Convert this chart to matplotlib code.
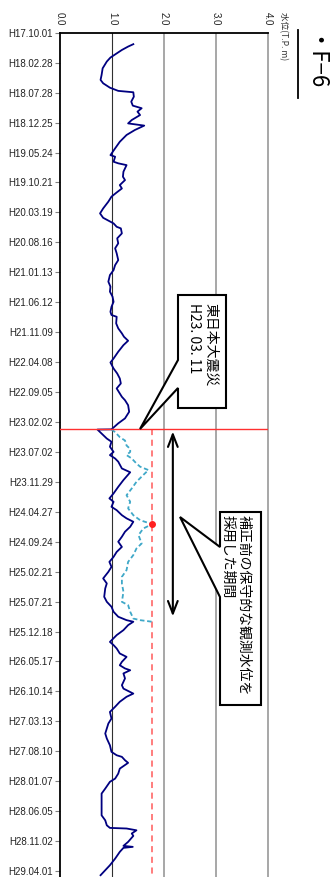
import pandas as pd
import matplotlib.pyplot as plt
import matplotlib.dates as mdates
from matplotlib.patches import Polygon
from matplotlib.lines import Line2D

plt.rcParams['font.family'] = ['Liberation Sans', 'Noto Sans CJK JP', 'DejaVu Sans']
jp = ['Noto Sans CJK JP', 'DejaVu Sans']

level_dates = [
    '2005-11-27', '2005-12-09', '2005-12-26', '2006-01-12', '2006-02-02', '2006-02-22',
    '2006-03-28', '2006-04-30', '2006-05-25', '2006-06-11', '2006-07-03', '2006-07-19',
    '2006-07-26', '2006-08-17', '2006-09-11', '2006-10-01', '2006-10-14', '2006-10-31',
    '2006-11-17', '2006-12-12', '2006-12-29', '2007-01-09', '2007-01-31', '2007-02-25',
    '2007-03-31', '2007-05-03', '2007-06-06', '2007-06-14', '2007-07-09', '2007-07-17',
    '2007-07-26', '2007-08-28', '2007-09-22', '2007-10-09', '2007-11-03', '2007-11-20',
    '2007-12-10', '2007-12-31', '2008-01-25', '2008-02-28', '2008-03-24', '2008-04-15',
    '2008-05-13', '2008-05-30', '2008-06-07', '2008-07-02', '2008-07-27', '2008-08-21',
    '2008-09-15', '2008-10-10', '2008-11-13', '2008-12-08', '2009-01-02', '2009-01-27',
    '2009-03-01', '2009-03-26', '2009-04-20', '2009-05-15', '2009-06-10', '2009-07-05',
    '2009-07-30', '2009-08-15', '2009-08-24', '2009-09-26', '2009-10-21', '2009-11-15',
    '2009-12-02', '2009-12-22', '2010-01-13', '2010-02-15', '2010-03-21', '2010-04-10',
    '2010-05-10', '2010-06-04', '2010-06-29', '2010-07-24', '2010-08-18', '2010-09-29',
    '2010-10-16', '2010-11-10', '2010-12-13', '2011-01-15', '2011-02-09', '2011-03-11',
    '2011-03-12', '2011-04-01', '2011-04-26', '2011-05-12', '2011-06-06', '2011-07-02',
    '2011-07-18', '2011-08-04', '2011-08-20', '2011-09-23', '2011-10-12', '2011-11-20',
    '2011-12-24', '2012-01-26', '2012-02-20', '2012-03-08', '2012-04-02', '2012-04-19',
    '2012-05-14', '2012-05-30', '2012-06-16', '2012-07-11', '2012-08-05', '2012-08-30',
    '2012-09-24', '2012-10-20', '2012-11-14', '2012-12-09', '2013-01-03', '2013-01-28',
    '2013-02-22', '2013-03-27', '2013-04-21', '2013-05-16', '2013-06-27', '2013-07-22',
    '2013-08-16', '2013-09-10', '2013-10-05', '2013-10-22', '2013-10-30', '2013-11-16',
    '2013-12-11', '2014-01-05', '2014-02-08', '2014-02-24', '2014-03-13', '2014-04-07',
    '2014-04-24', '2014-05-19', '2014-06-05', '2014-06-21', '2014-06-30', '2014-07-16',
    '2014-08-10', '2014-09-13', '2014-09-30', '2014-10-25', '2014-11-10', '2014-12-05',
    '2014-12-30', '2015-01-25', '2015-02-27', '2015-03-24', '2015-05-13', '2015-06-07',
    '2015-07-11', '2015-08-13', '2015-08-30', '2015-09-07', '2015-09-24', '2015-10-07',
    '2015-11-05', '2015-11-30', '2015-12-25', '2016-01-10', '2016-02-13', '2016-03-09',
    '2016-05-06', '2016-06-26', '2016-07-21', '2016-08-15', '2016-08-28', '2016-08-31',
    '2016-09-09', '2016-09-25', '2016-10-07', '2016-11-06', '2016-11-26', '2016-12-01',
    '2016-12-06', '2016-12-26', '2017-01-29', '2017-03-03', '2017-03-28', '2017-04-22',
]
level_vals = [
    1.41, 1.31, 1.19, 1.09, 0.97, 0.90,
    0.82, 0.80, 0.78, 0.83, 0.96, 1.12,
    1.41, 1.42, 1.37, 1.40, 1.57, 1.49,
    1.54, 1.38, 1.31, 1.62, 1.44, 1.28,
    1.15, 1.06, 0.97, 1.06, 1.03, 1.12,
    1.28, 1.22, 1.21, 1.25, 1.15, 1.19,
    1.09, 0.99, 0.93, 0.83, 0.77, 0.83,
    1.03, 1.09, 1.17, 1.19, 1.10, 1.12,
    1.06, 1.09, 1.12, 1.06, 1.03, 0.96,
    0.93, 0.97, 0.96, 1.01, 1.03, 0.99,
    0.97, 0.99, 1.09, 1.08, 1.12, 1.19,
    1.23, 1.31, 1.22, 1.12, 1.03, 0.97,
    1.03, 1.10, 1.15, 1.17, 1.09, 1.19,
    1.25, 1.31, 1.33, 1.25, 1.12, 0.99,
    0.72, 0.80, 0.90, 0.99, 0.96, 1.03,
    0.96, 1.06, 1.12, 1.19, 1.35, 1.22,
    1.12, 1.03, 0.95, 1.03, 0.99, 1.09,
    1.19, 1.28, 1.41, 1.35, 1.25, 1.19,
    1.12, 1.19, 1.09, 1.03, 0.95, 0.99,
    0.93, 0.83, 0.90, 0.87, 0.85, 0.90,
    0.99, 1.03, 1.12, 1.28, 1.41, 1.31,
    1.22, 1.09, 0.96, 1.03, 1.09, 1.15,
    1.28, 1.19, 1.15, 1.25, 1.35, 1.22,
    1.25, 1.19, 1.22, 1.41, 1.28, 1.15,
    1.06, 0.96, 0.99, 0.93, 0.87, 0.90,
    0.96, 0.99, 1.09, 1.19, 1.25, 1.31,
    1.15, 1.12, 1.06, 0.96, 0.87, 0.80,
    0.80, 0.80, 0.87, 0.90, 0.96, 1.28,
    1.47, 1.38, 1.41, 1.31, 1.22, 1.40,
    1.22, 1.15, 1.06, 0.96, 0.87, 0.78,
]

# uncorrected (conservative) water level after the earthquake
raw_dates = [
    '2011-03-11', '2011-03-25', '2011-04-19', '2011-05-06', '2011-05-31', '2011-06-17',
    '2011-07-02', '2011-07-18', '2011-08-04', '2011-08-29', '2011-09-14', '2011-10-01',
    '2011-10-26', '2011-11-29', '2012-01-01', '2012-02-04', '2012-03-08', '2012-04-10',
    '2012-05-14', '2012-06-08', '2012-06-28', '2012-07-20', '2012-08-22', '2012-10-03',
    '2012-10-28', '2012-11-30', '2013-01-03', '2013-02-13', '2013-03-19', '2013-04-21',
    '2013-06-02', '2013-07-22', '2013-08-08', '2013-09-10', '2013-10-14', '2013-10-22',
    '2013-10-30',
]
raw_vals = [
    0.99, 1.06, 1.15, 1.25, 1.28, 1.35,
    1.35, 1.28, 1.38, 1.47, 1.54, 1.70,
    1.60, 1.47, 1.38, 1.28, 1.35, 1.31,
    1.41, 1.54, 1.77, 1.60, 1.51, 1.57,
    1.47, 1.41, 1.31, 1.28, 1.19, 1.19,
    1.22, 1.19, 1.31, 1.35, 1.41, 1.54,
    1.77,
]

quake_date = '2011-03-11'
period = ['2011-03-22', '2013-10-03']

tick_labels = [
    'H17.10.01', 'H18.02.28', 'H18.07.28', 'H18.12.25', 'H19.05.24', 'H19.10.21',
    'H20.03.19', 'H20.08.16', 'H21.01.13', 'H21.06.12', 'H21.11.09', 'H22.04.08',
    'H22.09.05', 'H23.02.02', 'H23.07.02', 'H23.11.29', 'H24.04.27', 'H24.09.24',
    'H25.02.21', 'H25.07.21', 'H25.12.18', 'H26.05.17', 'H26.10.14', 'H27.03.13',
    'H27.08.10', 'H28.01.07', 'H28.06.05', 'H28.11.02', 'H29.04.01',
]
level_ticks = [0.0, 1.0, 2.0, 3.0, 4.0]

W, H = 334, 877


def px(x, y):
    # reference pixel position -> figure fraction
    return (x / W, 1 - y / H)


level_dates = pd.to_datetime(level_dates)
raw_dates = pd.to_datetime(raw_dates)
quake = pd.Timestamp(quake_date)
tick_dates = [pd.Timestamp(1988 + int(s[1:3]), int(s[4:6]), int(s[7:9])) for s in tick_labels]
y_top = tick_dates[0]
y_bottom = pd.Timestamp('2017-05-01')

fig = plt.figure(figsize=(W / 100, H / 100), dpi=100)
ax = fig.add_axes([60 / W, 0, 208 / W, (H - 32.8) / H])

ax.set_xlim(0, 4)
ax.set_ylim(y_bottom, y_top)

# grid lines
ax.axvline(1.0, color='#303030', lw=0.8, zorder=1)
for v in [2.0, 3.0]:
    ax.axvline(v, color='#a0a0a0', lw=1.3, zorder=1)

ax.plot(level_vals, level_dates, color='#000080', lw=1.3, zorder=3)
ax.plot(raw_vals, raw_dates, color='#3fa8c8', lw=1.3, dashes=(2.5, 1.5), zorder=3)

ax.axhline(quake, color='#ff3030', lw=1.0, zorder=4)
peak = max(raw_vals)
peak_date = raw_dates[raw_vals.index(peak)]
ax.vlines(peak, quake, y_bottom, colors='#ff5a5a', linestyles=(0, (4, 3)), lw=1.1, zorder=2)
ax.plot([peak], [peak_date], 'o', color='#ff2020', ms=4, zorder=5)

p0 = mdates.date2num(pd.Timestamp(period[0]))
p1 = mdates.date2num(pd.Timestamp(period[1]))
ax.annotate('', xy=(2.17, p1), xytext=(2.17, p0),
            arrowprops=dict(arrowstyle='<->,head_length=0.9,head_width=0.35',
                            lw=1.5, color='black', shrinkA=0, shrinkB=0), zorder=5)

# axes styling
ax.xaxis.tick_top()
ax.set_xticks(level_ticks)
ax.set_xticklabels([f'{v:.1f}' for v in level_ticks], rotation=-90, fontsize=7, color='#222222')
ax.tick_params(axis='x', length=0, pad=5)
ax.set_yticks(tick_dates)
ax.set_yticklabels(tick_labels, fontsize=7, color='#222222')
ax.tick_params(axis='y', length=3.5, width=0.8, color='#808080', pad=1.5)
ax.spines['bottom'].set_visible(False)
ax.spines['left'].set_linewidth(1.3)
ax.spines['top'].set_linewidth(1.3)
ax.spines['right'].set_color('#a0a0a0')
ax.spines['right'].set_linewidth(1.3)

# callouts
callout1 = [(178, 295), (226, 295), (226, 408), (178, 408), (178, 388), (140, 429), (178, 360)]
callout2 = [(220, 512), (261, 512), (261, 705), (220, 705), (220, 597), (180, 517), (220, 547)]
for shape in [callout1, callout2]:
    fig.add_artist(Polygon([px(x, y) for x, y in shape], closed=True, facecolor='white',
                           edgecolor='black', lw=1.5, transform=fig.transFigure, zorder=6))

fig.text(*px(202, 303), '東日本大震災\nH23. 03. 11', rotation=-90, ha='center', va='top',
         multialignment='left', fontsize=10, family=jp, linespacing=1.25, zorder=7)
fig.text(*px(236, 515), '補正前の保守的な観測水位を\n採用した期間', rotation=-90, ha='center',
         va='top', multialignment='left', fontsize=10, family=jp, linespacing=1.25, zorder=7)

# title and unit
fig.text(*px(310, 36), '・F−6', rotation=-90, ha='center', va='top', fontsize=16, family=jp)
fig.add_artist(Line2D([298 / W, 298 / W], [1 - 30 / H, 1 - 98 / H], color='black', lw=1.3,
                      transform=fig.transFigure))
fig.text(*px(283, 12), '水位(T.P. m)', rotation=-90, ha='center', va='top', fontsize=6.2,
         family=jp, color='#333333')

fig.savefig('out.png', dpi=100)
